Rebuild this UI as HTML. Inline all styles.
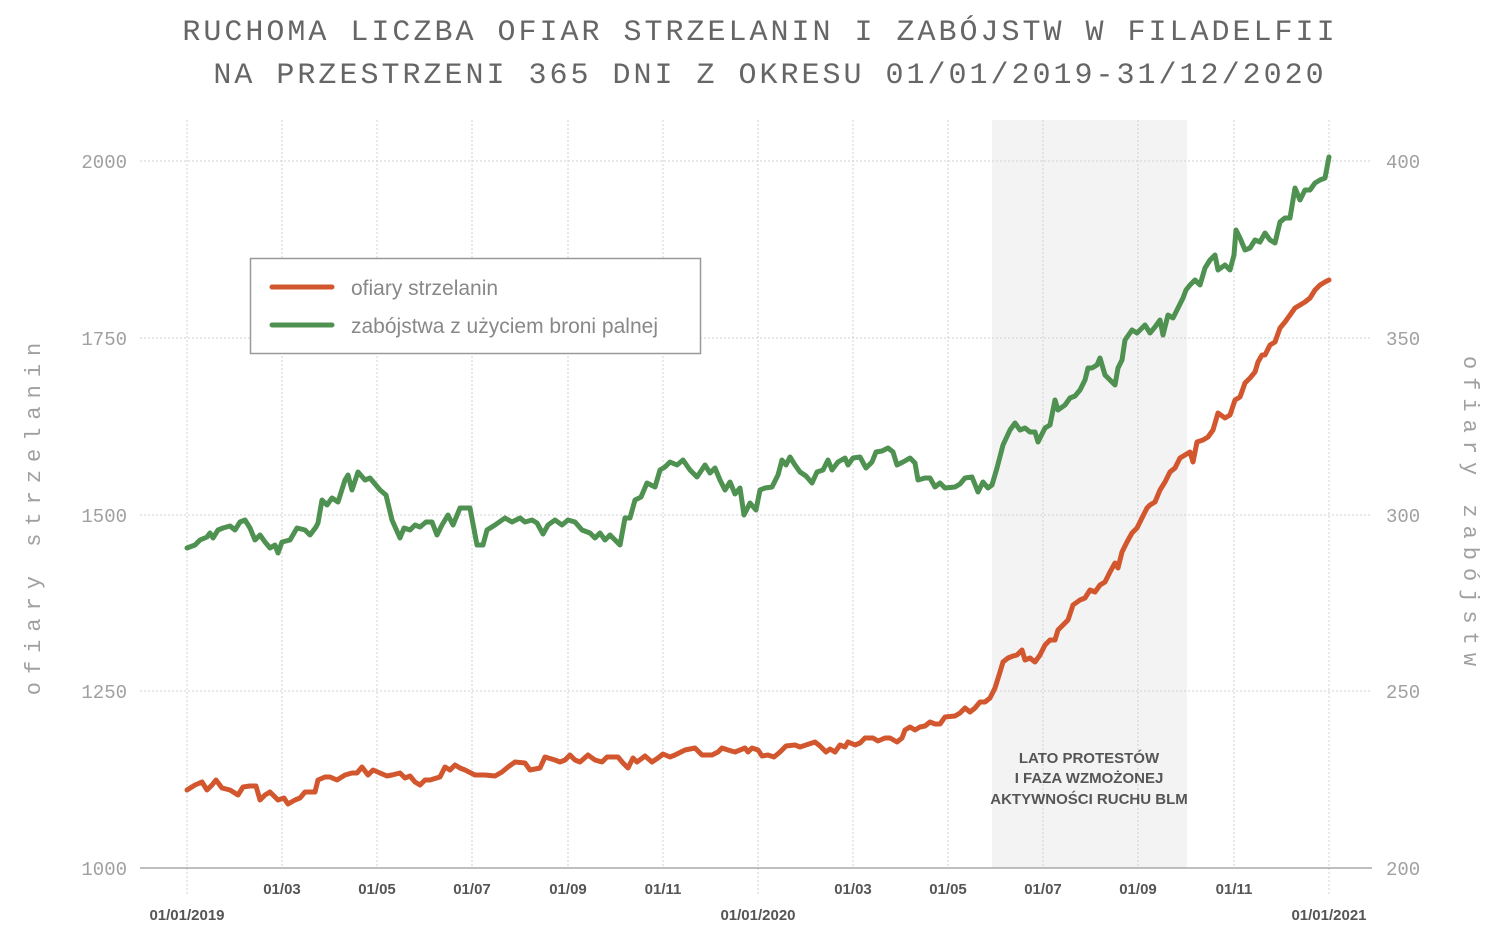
<!DOCTYPE html>
<html><head><meta charset="utf-8"><style>
html,body{margin:0;padding:0;background:#fff;}
svg{display:block;}
</style></head><body>
<svg width="1500" height="934" xmlns="http://www.w3.org/2000/svg" font-family="'Liberation Sans', sans-serif">
<rect width="1500" height="934" fill="#fff"/>
<text x="760" y="40" text-anchor="middle" font-family="'Liberation Mono', monospace" font-size="30" letter-spacing="3" fill="#666">RUCHOMA LICZBA OFIAR STRZELANIN I ZABÓJSTW W FILADELFII</text>
<text x="770" y="83" text-anchor="middle" font-family="'Liberation Mono', monospace" font-size="30" letter-spacing="3" fill="#666">NA PRZESTRZENI 365 DNI Z OKRESU 01/01/2019-31/12/2020</text>
<rect x="992" y="120" width="195" height="748" fill="#f3f3f3"/>
<g stroke="#d0d0d0" stroke-width="1" stroke-dasharray="2,2">
<line x1="140" x2="1372" y1="161" y2="161"/><line x1="140" x2="1372" y1="338" y2="338"/>
<line x1="140" x2="1372" y1="515" y2="515"/><line x1="140" x2="1372" y1="691" y2="691"/>
<line x1="187" x2="187" y1="120" y2="895"/><line x1="282" x2="282" y1="120" y2="868"/>
<line x1="377" x2="377" y1="120" y2="868"/><line x1="472" x2="472" y1="120" y2="868"/>
<line x1="568" x2="568" y1="120" y2="868"/><line x1="663" x2="663" y1="120" y2="868"/>
<line x1="758" x2="758" y1="120" y2="895"/><line x1="853" x2="853" y1="120" y2="868"/>
<line x1="948" x2="948" y1="120" y2="868"/><line x1="1043" x2="1043" y1="120" y2="868"/>
<line x1="1138" x2="1138" y1="120" y2="868"/><line x1="1234" x2="1234" y1="120" y2="868"/>
<line x1="1329" x2="1329" y1="120" y2="895"/>
</g>
<line x1="140" x2="1372" y1="868" y2="868" stroke="#999" stroke-width="1.2"/>
<g font-size="19" fill="#a0a0a0" font-family="'Liberation Mono', monospace">
<text x="127" y="168" text-anchor="end">2000</text><text x="127" y="345" text-anchor="end">1750</text>
<text x="127" y="522" text-anchor="end">1500</text><text x="127" y="698" text-anchor="end">1250</text>
<text x="127" y="875" text-anchor="end">1000</text>
<text x="1386" y="168">400</text><text x="1386" y="345">350</text><text x="1386" y="522">300</text>
<text x="1386" y="698">250</text><text x="1386" y="875">200</text>
<text transform="translate(40,515) rotate(-90)" text-anchor="middle" font-size="22" letter-spacing="8">ofiary strzelanin</text>
<text transform="translate(1464,515) rotate(90)" text-anchor="middle" font-size="22" letter-spacing="8">ofiary zabójstw</text>
</g>
<g font-size="15" font-weight="bold" fill="#555" text-anchor="middle" font-family="'Liberation Sans Narrow', 'Liberation Sans', sans-serif">
<text x="282" y="894">01/03</text><text x="377" y="894">01/05</text><text x="472" y="894">01/07</text>
<text x="568" y="894">01/09</text><text x="663" y="894">01/11</text><text x="853" y="894">01/03</text>
<text x="948" y="894">01/05</text><text x="1043" y="894">01/07</text><text x="1138" y="894">01/09</text>
<text x="1234" y="894">01/11</text>
<text x="187" y="920">01/01/2019</text><text x="758" y="920">01/01/2020</text><text x="1329" y="920">01/01/2021</text>
</g>
<g font-size="15" font-weight="bold" fill="#555" text-anchor="middle" font-family="'Liberation Sans Narrow', 'Liberation Sans', sans-serif">
<text x="1089" y="763">LATO PROTESTÓW</text><text x="1089" y="783">I FAZA WZMOŻONEJ</text><text x="1089" y="804">AKTYWNOŚCI RUCHU BLM</text>
</g>
<polyline fill="none" stroke="#4e9150" stroke-width="5" stroke-linejoin="round" stroke-linecap="round" points="187,548 195,545 200,540 207,537 210,533 213,538 218,530 223,528 230,526 235,530 240,522 245,520 250,528 255,540 260,535 265,542 270,548 275,545 278,553 282,542 290,540 297,528 305,530 310,535 316,527 318,523 322,500 327,505 332,498 338,502 345,480 348,475 352,490 358,472 365,480 370,478 380,490 386,495 392,520 400,538 404,528 410,530 415,525 420,527 426,522 432,522 437,535 442,525 448,515 453,525 460,508 470,508 477,545 483,545 487,530 495,525 505,518 512,522 520,518 525,522 532,520 537,523 543,534 548,525 555,520 562,525 568,520 575,522 582,530 590,533 595,538 600,533 605,540 610,535 615,540 620,545 625,518 630,518 635,500 641,497 647,483 655,487 660,470 665,467 670,462 677,465 683,460 690,470 697,477 705,465 710,473 715,468 720,480 725,490 730,482 735,494 740,488 744,515 750,503 756,510 760,490 765,488 772,487 778,475 782,460 786,465 790,457 795,465 800,472 806,476 812,483 817,472 823,470 828,460 832,470 838,462 845,458 848,465 853,458 860,457 866,468 872,462 876,452 882,451 888,448 893,452 897,465 903,462 910,458 915,463 918,480 925,478 930,478 935,487 940,483 945,488 955,487 960,484 965,478 972,477 978,492 983,482 988,488 992,485 997,468 1003,445 1010,430 1015,423 1020,430 1025,428 1030,432 1035,432 1038,442 1045,428 1050,425 1055,400 1058,410 1065,405 1070,398 1075,396 1080,390 1085,380 1088,368 1092,368 1097,365 1100,358 1105,375 1110,380 1115,385 1118,368 1122,360 1125,340 1132,330 1137,333 1145,325 1150,333 1155,327 1160,320 1163,335 1168,315 1173,318 1178,308 1183,298 1186,290 1190,285 1195,280 1200,285 1205,268 1210,260 1215,255 1218,270 1225,265 1230,270 1234,255 1236,230 1240,238 1245,250 1250,248 1255,240 1260,242 1265,233 1270,240 1275,243 1280,222 1285,218 1290,218 1295,188 1300,200 1305,190 1310,190 1315,183 1320,180 1325,178 1329,157"/>
<polyline fill="none" stroke="#d2572e" stroke-width="5" stroke-linejoin="round" stroke-linecap="round" points="187,790 195,785 202,782 207,790 212,785 216,780 222,788 230,790 238,795 243,787 250,786 256,786 260,800 265,795 270,792 278,800 284,798 288,804 295,800 300,798 305,792 315,792 318,780 325,777 330,777 337,780 345,775 352,773 357,773 362,767 368,775 373,770 380,773 387,776 392,775 400,773 405,778 410,776 415,782 420,785 425,780 430,780 440,777 445,767 450,770 455,765 460,768 465,770 475,775 485,775 495,776 502,772 508,767 515,762 525,763 530,770 540,768 545,757 555,760 560,762 565,760 570,755 575,760 580,762 588,755 595,760 602,762 607,757 618,757 623,763 628,768 633,758 637,762 645,756 652,762 658,758 663,754 670,757 675,755 685,750 695,748 702,755 712,755 718,752 722,748 728,750 735,752 740,750 745,748 748,752 752,748 758,750 762,756 768,755 774,757 780,752 786,746 795,745 800,747 806,745 815,742 820,746 826,752 830,749 835,752 840,745 845,747 848,742 855,745 860,743 865,738 873,738 878,741 885,738 890,738 897,742 902,738 905,730 910,727 915,730 920,727 925,726 930,722 935,724 940,724 945,717 955,716 960,713 965,708 970,712 975,708 980,702 985,702 990,698 995,688 1000,672 1003,662 1008,658 1013,656 1017,655 1022,650 1025,660 1030,658 1035,662 1040,655 1045,645 1050,640 1055,640 1058,630 1063,625 1068,620 1073,605 1080,600 1085,598 1090,590 1095,592 1100,585 1105,582 1110,572 1115,563 1118,568 1122,552 1127,542 1132,533 1137,528 1142,518 1147,508 1150,505 1155,502 1160,490 1165,482 1170,472 1175,468 1180,458 1185,455 1190,452 1193,462 1197,442 1203,440 1208,437 1213,430 1218,413 1225,418 1230,415 1235,400 1240,397 1245,383 1250,378 1255,372 1258,362 1262,355 1265,355 1270,345 1275,342 1280,328 1285,322 1290,315 1295,308 1300,305 1305,302 1310,298 1315,290 1320,285 1325,282 1329,280"/>
<rect x="250.5" y="258.5" width="450" height="95" fill="#fff" stroke="#999" stroke-width="1.5"/>
<line x1="272" x2="332" y1="287" y2="287" stroke="#d2572e" stroke-width="5" stroke-linecap="round"/>
<line x1="272" x2="332" y1="325" y2="325" stroke="#4e9150" stroke-width="5" stroke-linecap="round"/>
<text x="351" y="295" font-size="21" fill="#888">ofiary strzelanin</text>
<text x="351" y="333" font-size="21" fill="#888">zabójstwa z użyciem broni palnej</text>
</svg>
</body></html>
